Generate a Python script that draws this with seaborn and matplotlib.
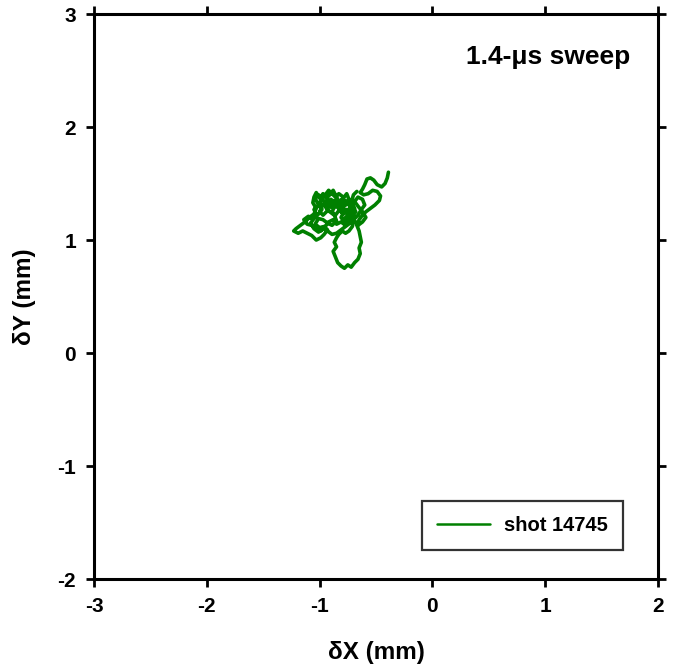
import pandas as pd
import matplotlib
matplotlib.use("Agg")
import matplotlib.pyplot as plt
import seaborn as sns

# beam centroid trajectory, shot 14745 (mm)
dx = [-0.39, -0.40, -0.42, -0.45, -0.49, -0.52, -0.55, -0.58, -0.60, -0.62, -0.64, -0.61,
      -0.57, -0.53, -0.49, -0.46, -0.47, -0.51, -0.55, -0.59, -0.62, -0.65, -0.67, -0.65,
      -0.64, -0.63, -0.65, -0.64, -0.66, -0.69, -0.72, -0.75, -0.78, -0.81, -0.84, -0.86,
      -0.88, -0.85, -0.87, -0.85, -0.83, -0.80, -0.77, -0.74, -0.71, -0.70, -0.73, -0.71,
      -0.74, -0.77, -0.80, -0.83, -0.82, -0.85, -0.88, -0.91, -0.94, -0.97, -1.00, -1.03,
      -1.05, -1.06, -1.03, -1.05, -1.09, -1.13, -1.17, -1.21, -1.23, -1.19, -1.15, -1.11,
      -1.07, -1.03, -0.99, -0.96, -0.93, -0.96, -1.00, -1.04, -1.01, -0.97, -0.93, -0.89,
      -0.85, -0.87, -0.91, -0.94, -0.91, -0.87, -0.83, -0.79, -0.76, -0.73, -0.70, -0.73,
      -0.77, -0.81, -0.85, -0.89, -0.93, -0.97, -1.01, -1.05, -1.08, -1.05, -1.01, -0.98,
      -1.01, -0.98, -0.94, -0.90, -0.87, -0.83, -0.79, -0.76, -0.74, -0.71, -0.68, -0.71,
      -0.75, -0.78, -0.81, -0.79, -0.83, -0.86, -0.89, -0.87, -0.91, -0.95, -0.93, -0.97,
      -1.00, -0.98, -1.02, -1.05, -1.03, -1.07, -1.10, -1.14, -1.11, -1.07, -1.03, -0.99,
      -0.95, -0.92, -0.88, -0.85, -0.81, -0.77, -0.74, -0.72, -0.75, -0.72, -0.75, -0.78,
      -0.81, -0.79, -0.83, -0.86, -0.89, -0.92, -0.95, -0.98, -1.01, -1.04, -1.02, -0.98,
      -0.94, -0.90, -0.86, -0.82, -0.78, -0.75, -0.78, -0.74, -0.70, -0.66, -0.63, -0.60,
      -0.62, -0.66, -0.69, -0.66, -0.62, -0.59, -0.62, -0.66, -0.69, -0.72, -0.69, -0.72,
      -0.70, -0.67]
dy = [1.60, 1.55, 1.50, 1.47, 1.49, 1.53, 1.55, 1.54, 1.49, 1.45, 1.42, 1.40,
      1.41, 1.44, 1.43, 1.39, 1.35, 1.31, 1.28, 1.25, 1.22, 1.18, 1.13, 1.08,
      1.03, 0.98, 0.93, 0.88, 0.83, 0.80, 0.76, 0.78, 0.75, 0.77, 0.80, 0.85,
      0.90, 0.94, 0.98, 1.02, 1.05, 1.08, 1.06, 1.08, 1.12, 1.16, 1.21, 1.26,
      1.31, 1.35, 1.30, 1.27, 1.33, 1.38, 1.44, 1.40, 1.37, 1.41, 1.37, 1.42,
      1.38, 1.33, 1.28, 1.23, 1.20, 1.16, 1.13, 1.10, 1.08, 1.06, 1.08, 1.06,
      1.04, 1.00, 1.02, 1.05, 1.09, 1.12, 1.11, 1.14, 1.19, 1.18, 1.15, 1.13,
      1.17, 1.22, 1.25, 1.29, 1.34, 1.31, 1.28, 1.23, 1.27, 1.24, 1.19, 1.15,
      1.12, 1.09, 1.06, 1.05, 1.08, 1.10, 1.07, 1.10, 1.15, 1.19, 1.23, 1.27,
      1.32, 1.36, 1.33, 1.29, 1.35, 1.33, 1.37, 1.41, 1.36, 1.31, 1.25, 1.21,
      1.18, 1.16, 1.20, 1.24, 1.26, 1.22, 1.25, 1.29, 1.32, 1.30, 1.26, 1.22,
      1.25, 1.29, 1.30, 1.27, 1.23, 1.19, 1.21, 1.18, 1.14, 1.13, 1.10, 1.08,
      1.12, 1.16, 1.18, 1.14, 1.16, 1.13, 1.17, 1.22, 1.26, 1.30, 1.33, 1.30,
      1.34, 1.38, 1.41, 1.38, 1.41, 1.44, 1.40, 1.37, 1.40, 1.37, 1.33, 1.31,
      1.34, 1.36, 1.33, 1.30, 1.27, 1.22, 1.19, 1.15, 1.18, 1.22, 1.27, 1.31,
      1.36, 1.38, 1.34, 1.30, 1.25, 1.20, 1.16, 1.13, 1.17, 1.24, 1.28, 1.33,
      1.40, 1.43]

xticks = [-3, -2, -1, 0, 1, 2]
yticks = [-2, -1, 0, 1, 2, 3]

df = pd.DataFrame({"dx": dx, "dy": dy, "shot": "shot 14745"})

sns.set_style("white")
plt.rcParams["font.family"] = ["Liberation Sans", "DejaVu Sans"]
plt.rcParams["font.weight"] = "bold"
plt.rcParams["text.color"] = "black"
plt.rcParams["axes.labelcolor"] = "black"
plt.rcParams["xtick.color"] = "black"
plt.rcParams["ytick.color"] = "black"

fig = plt.figure(figsize=(6.74, 6.65), dpi=100)
ax = fig.add_axes([0.1395, 0.1293, 0.8368, 0.8496])

sns.lineplot(data=df, x="dx", y="dy", hue="shot", sort=False, estimator=None,
             palette=["#008000"], linewidth=2.6, ax=ax)

ax.set_xlim(-3, 2)
ax.set_ylim(-2, 3)
ax.set_xticks(xticks)
ax.set_yticks(yticks)
ax.set_xticklabels([str(t) for t in xticks], fontsize=15, fontweight="bold")
ax.set_yticklabels([str(t) for t in yticks], fontsize=15, fontweight="bold")
ax.tick_params(direction="out", length=6, width=2, bottom=True, left=True,
               top=True, right=True, labeltop=False, labelright=False, pad=7)
for s in ax.spines.values():
    s.set_linewidth(2.2)
    s.set_color("black")

ax.set_xlabel("δX (mm)", fontsize=17.5, fontweight="bold", labelpad=18)
ax.set_ylabel("δY (mm)", fontsize=17.5, fontweight="bold", labelpad=15)

ax.text(0.95, 0.924, "1.4-μs sweep", transform=ax.transAxes, ha="right", va="center",
        fontsize=19, fontweight="bold")

leg = ax.legend(loc="lower right", bbox_to_anchor=(0.955, 0.033), fontsize=14.5,
                fancybox=False, frameon=True, handlelength=2.6, borderpad=0.75,
                handletextpad=0.7)
leg.get_frame().set_edgecolor("black")
leg.get_frame().set_linewidth(1.6)
for t in leg.get_texts():
    t.set_fontweight("bold")
for h in leg.get_lines():
    h.set_linewidth(1.8)

fig.savefig("out.png", dpi=100)
